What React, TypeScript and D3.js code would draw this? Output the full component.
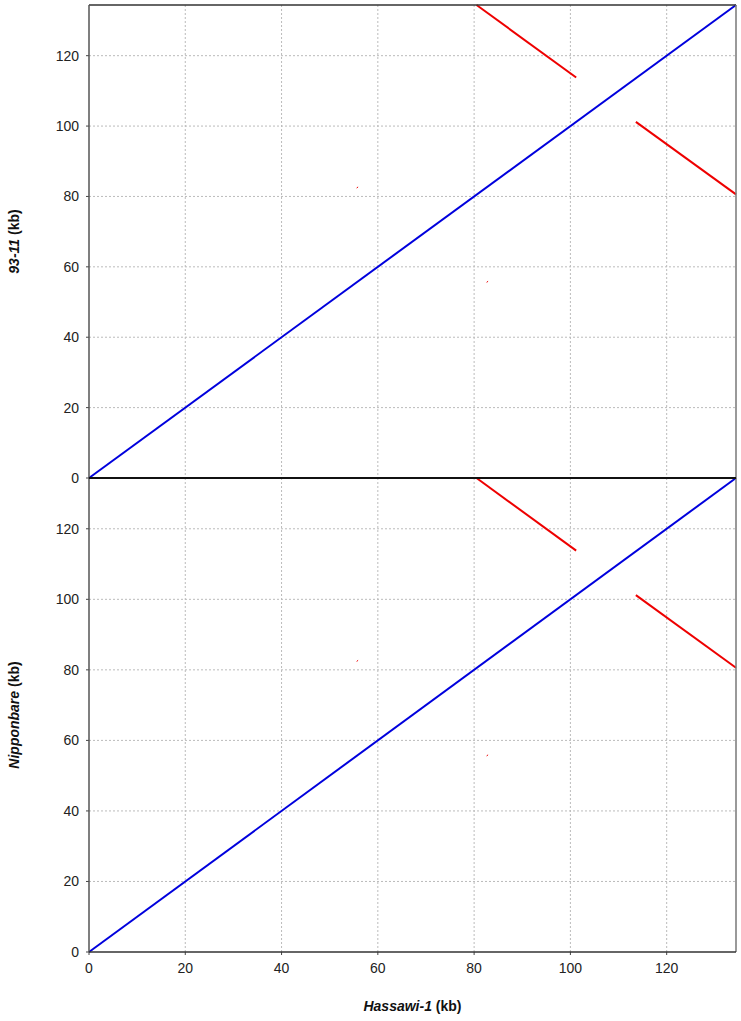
import React from "react";
import * as d3 from "d3";

// dot plot segments, kb (Hassawi-1 on x, other genome on y)
const genomeLen = 134.4;
const ticks = [0, 20, 40, 60, 80, 100, 120];
const panels = ["93-11", "Nipponbare"];
const xTitle = "Hassawi-1";

// [x1, y1, x2, y2]
const forwardHits = [[0, 0, 134.4, 134.4]];
const reverseHits = [
  [80.5, 134.4, 101.2, 113.8],
  [113.6, 101.2, 134.4, 80.6],
  [55.6, 82.4, 55.9, 82.7],
  [82.6, 55.6, 82.9, 55.9],
];

const W = 741;
const H = 1021;
const left = 89;
const right = 736;
const top = 5;
const mid = 478;
const bottom = 952;
const font = "Liberation Sans, Arial, sans-serif";

function Panel({ name, y0, y1, showX }: { name: string; y0: number; y1: number; showX: boolean }) {
  const x = d3.scaleLinear().domain([0, genomeLen]).range([left, right]);
  const y = d3.scaleLinear().domain([0, genomeLen]).range([y1, y0]);
  return (
    <g>
      {ticks.filter((t) => t > 0).map((t) => (
        <line key={"gx" + t} x1={x(t)} x2={x(t)} y1={y0} y2={y1} stroke="#bbb" strokeDasharray="2,2" />
      ))}
      {ticks.filter((t) => t > 0).map((t) => (
        <line key={"gy" + t} x1={left} x2={right} y1={y(t)} y2={y(t)} stroke="#bbb" strokeDasharray="2,2" />
      ))}
      {forwardHits.map((d, i) => (
        <line key={"f" + i} x1={x(d[0])} y1={y(d[1])} x2={x(d[2])} y2={y(d[3])} stroke="#0000dd" strokeWidth={2} />
      ))}
      {reverseHits.map((d, i) => (
        <line key={"r" + i} x1={x(d[0])} y1={y(d[1])} x2={x(d[2])} y2={y(d[3])} stroke="#ee0000" strokeWidth={i < 2 ? 2 : 1} />
      ))}
      {ticks.map((t) => (
        <g key={"ty" + t}>
          <line x1={left - 3} x2={left} y1={y(t)} y2={y(t)} stroke="#444" />
          <text x={left - 10} y={y(t)} dy="0.35em" textAnchor="end" fontSize={14} fontFamily={font} fill="#222">
            {t}
          </text>
        </g>
      ))}
      {showX &&
        ticks.map((t) => (
          <g key={"tx" + t}>
            <line x1={x(t)} x2={x(t)} y1={y1} y2={y1 + 3} stroke="#444" />
            <text x={x(t)} y={y1 + 21} textAnchor="middle" fontSize={14} fontFamily={font} fill="#222">
              {t}
            </text>
          </g>
        ))}
      <text
        transform={`translate(19,${(y0 + y1) / 2}) rotate(-90)`}
        textAnchor="middle"
        fontSize={14}
        fontWeight="bold"
        fontFamily={font}
        fill="#111"
      >
        <tspan fontStyle="italic">{name}</tspan>
        <tspan> (kb)</tspan>
      </text>
    </g>
  );
}

export default function App() {
  return (
    <svg width={W} height={H} style={{ position: "absolute", left: 0, top: 0, background: "#fff" }}>
      <Panel name={panels[0]} y0={top} y1={mid} showX={false} />
      <Panel name={panels[1]} y0={mid} y1={bottom} showX={true} />
      <line x1={left} x2={right} y1={top} y2={top} stroke="#333" strokeWidth={1.5} />
      <line x1={left} x2={left} y1={top} y2={bottom} stroke="#555" strokeWidth={1.5} />
      <line x1={right} x2={right} y1={top} y2={bottom} stroke="#777" strokeWidth={1.5} />
      <line x1={left} x2={right} y1={mid} y2={mid} stroke="#111" strokeWidth={2} />
      <line x1={left} x2={right} y1={bottom} y2={bottom} stroke="#333" strokeWidth={1.5} />
      <text x={(left + right) / 2} y={1011} textAnchor="middle" fontSize={14} fontWeight="bold" fontFamily={font} fill="#111">
        <tspan fontStyle="italic">{xTitle}</tspan>
        <tspan> (kb)</tspan>
      </text>
    </svg>
  );
}
